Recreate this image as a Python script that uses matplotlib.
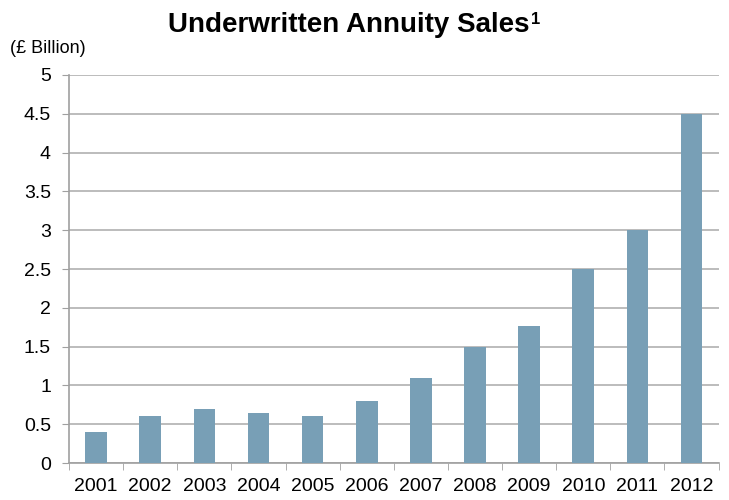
import matplotlib
matplotlib.use("Agg")
import matplotlib.pyplot as plt
import numpy as np

plt.rcParams['font.family'] = ['Liberation Sans', 'DejaVu Sans']

years = ['2001', '2002', '2003', '2004', '2005', '2006',
         '2007', '2008', '2009', '2010', '2011', '2012']
sales = [0.4, 0.6, 0.7, 0.65, 0.6, 0.8, 1.1, 1.5, 1.76, 2.5, 3.0, 4.5]
yticks = [0, 0.5, 1, 1.5, 2, 2.5, 3, 3.5, 4, 4.5, 5]
ytick_labels = ['0', '0.5', '1', '1.5', '2', '2.5', '3', '3.5', '4', '4.5', '5']

fig = plt.figure(figsize=(7.29, 5.0), dpi=100)
ax = fig.add_axes([0.0947, 0.074, 0.891, 0.776])

x = np.arange(len(years))
ax.bar(x, sales, width=0.4, color='#789fb6', zorder=3)

ax.set_xlim(-0.5, len(years) - 0.5)
ax.set_ylim(0, 5)
ax.set_yticks(yticks)
ax.set_yticklabels(ytick_labels, fontsize=14)
ax.set_xticks(x)
ax.set_xticklabels(years, fontsize=14)
ax.tick_params(axis='x', length=0, pad=11)
# category boundary ticks
ax.set_xticks(np.arange(-0.5, len(years)), minor=True)
ax.tick_params(axis='x', which='minor', length=5, color='#a0a0a0', direction='out')
ax.tick_params(axis='y', length=5, color='#a0a0a0', pad=8)

ax.grid(axis='y', color='#b0b0b0', linewidth=1.2, zorder=0)
for s in ['top', 'right']:
    ax.spines[s].set_visible(False)
ax.spines['left'].set_color('#a0a0a0')
ax.spines['bottom'].set_color('#a0a0a0')
ax.spines['left'].set_linewidth(1.2)
ax.spines['bottom'].set_linewidth(1.2)

fig.text(0.478, 0.95, 'Underwritten Annuity Sales', ha='center', va='center',
         fontsize=20, fontweight='bold')
fig.text(0.728, 0.962, '1', ha='left', va='center', fontsize=12, fontweight='bold')
fig.text(0.014, 0.903, '(£ Billion)', ha='left', va='center', fontsize=13)

fig.savefig('out.png', dpi=100)
